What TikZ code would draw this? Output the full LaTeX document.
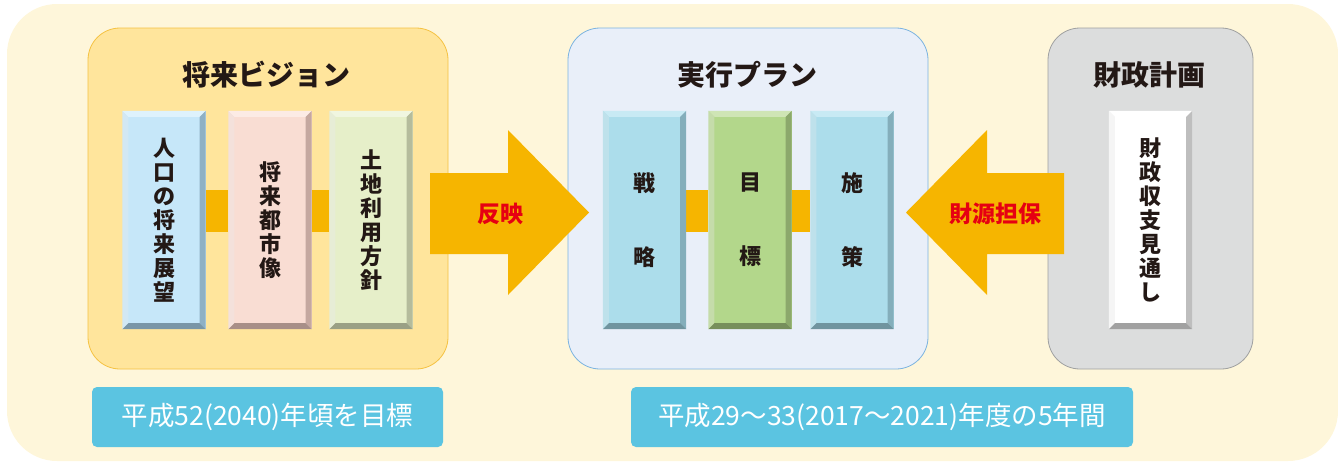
\documentclass[tikz,border=0pt]{standalone}
\usepackage{fontspec}
\setmainfont{Noto Sans CJK JP}
\usetikzlibrary{calc}

\definecolor{cream}{HTML}{FEF6DA}
\definecolor{ink}{HTML}{231815}
\definecolor{amber}{HTML}{F6B500}
\definecolor{alert}{HTML}{E60012}
\definecolor{skyband}{HTML}{5BC4E1}
% group boxes
\definecolor{visionfill}{HTML}{FFE59C}
\definecolor{visionline}{HTML}{F5C242}
\definecolor{planfill}{HTML}{E9EFF9}
\definecolor{planline}{HTML}{7BB3E0}
\definecolor{financefill}{HTML}{DCDDDD}
\definecolor{financeline}{HTML}{9FA0A0}
% bars: face, light edge, dark edge
\definecolor{bluebar}{HTML}{C6E7F9}
\definecolor{bluelight}{HTML}{DEF2FC}
\definecolor{bluedark}{HTML}{8FB0C4}
\definecolor{pinkbar}{HTML}{F9DDD3}
\definecolor{pinklight}{HTML}{FCEBE5}
\definecolor{pinkdark}{HTML}{C5A8A0}
\definecolor{limebar}{HTML}{E6EFC9}
\definecolor{limelight}{HTML}{F0F6E0}
\definecolor{limedark}{HTML}{B5BC9C}
\definecolor{aquabar}{HTML}{ACDDEB}
\definecolor{aqualight}{HTML}{C8EAF4}
\definecolor{aquadark}{HTML}{84AEBB}
\definecolor{greenbar}{HTML}{B3D78B}
\definecolor{greenlight}{HTML}{CFE5B5}
\definecolor{greendark}{HTML}{8CA86C}
\definecolor{whitedark}{HTML}{BEBEBE}

\newcommand{\bevel}[3]{%
  \fill[#2] (#1.north west) -- (#1.north east) -- ([shift={(-6pt,-6pt)}]#1.north east) -- ([shift={(6pt,-6pt)}]#1.north west) -- cycle;
  \fill[#2!85!#3] (#1.north west) -- ([shift={(6pt,-6pt)}]#1.north west) -- ([shift={(6pt,6pt)}]#1.south west) -- (#1.south west) -- cycle;
  \fill[#3] (#1.north east) -- (#1.south east) -- ([shift={(-6pt,6pt)}]#1.south east) -- ([shift={(-6pt,-6pt)}]#1.north east) -- cycle;
  \fill[#3!85!black] (#1.south west) -- (#1.south east) -- ([shift={(-6pt,6pt)}]#1.south east) -- ([shift={(6pt,6pt)}]#1.south west) -- cycle;
}

\begin{document}
\begin{tikzpicture}[x=1pt,y=-1pt,
  group/.style={rounded corners=32pt, minimum width=#1, minimum height=341pt, draw, line width=0.8pt},
  bar/.style={fill=#1, minimum width=83pt, minimum height=218pt, inner sep=0pt, align=center,
    text=ink, font=\bfseries\fontsize{22}{24}\selectfont},
  title/.style={text=ink, font=\bfseries\fontsize{28}{30}\selectfont},
  link/.style={amber, line width=42pt},
  bigarrow/.style={fill=amber},
  arrowtext/.style={text=alert, font=\bfseries\fontsize{23}{24}\selectfont},
  period/.style={fill=skyband, rounded corners=5pt, minimum height=60pt, text=white,
    font=\fontsize{26.5}{28}\selectfont}]

\useasboundingbox (0,0) rectangle (1338,461);
\fill[cream, rounded corners=50pt] (7,4) rectangle (1338,461);

% groups
\node[group=360pt, fill=visionfill, draw=visionline] (vision) at (268,198.5) {};
\node[group=360pt, fill=planfill, draw=planline] (plan) at (748,198.5) {};
\node[group=205pt, fill=financefill, draw=financeline] (finance) at (1150.5,198.5) {};

\node[title] at (266,75) {将来ビジョン};
\node[title] at (747,75) {実行プラン};
\node[title] at (1149,75) {財政計画};

% arrows
\coordinate (reflect) at (589,212.5);
\fill[bigarrow] (430,173) -- (508,173) -- (508,130) -- (reflect) -- (508,295) -- (508,254) -- (430,254) -- cycle;
\node[arrowtext] (reflectlabel) at (500,214) {反映};

\coordinate (secure) at (906,212.5);
\fill[bigarrow] (1064,173) -- (987,173) -- (987,130) -- (secure) -- (987,295) -- (987,254) -- (1064,254) -- cycle;
\node[arrowtext] (securelabel) at (995,214) {財源担保};

% vision bars
\node[bar=bluebar] (population) at (164,220) {};
\node[bar=pinkbar] (cityimage) at (270,220) {};
\node[bar=limebar] (landuse) at (371,220) {};
\draw[link] ([yshift=9pt]population.east) -- ([yshift=9pt]cityimage.west);
\draw[link] ([yshift=9pt]cityimage.east) -- ([yshift=9pt]landuse.west);

% plan bars
\node[bar=aquabar] (strategy) at (644.5,220) {};
\node[bar=greenbar] (target) at (750,220) {};
\node[bar=aquabar] (measure) at (852,220) {};
\draw[link] ([yshift=9pt]strategy.east) -- ([yshift=9pt]target.west);
\draw[link] ([yshift=9pt]target.east) -- ([yshift=9pt]measure.west);

% finance bar
\node[bar=white] (outlook) at (1150.5,220) {};

\bevel{population}{bluelight}{bluedark}
\bevel{cityimage}{pinklight}{pinkdark}
\bevel{landuse}{limelight}{limedark}
\bevel{strategy}{aqualight}{aquadark}
\bevel{target}{greenlight}{greendark}
\bevel{measure}{aqualight}{aquadark}
\bevel{outlook}{white}{whitedark}

\node[bar=none, fill=none] at (population) {人\\口\\の\\将\\来\\展\\望};
\node[bar=none, fill=none] at (cityimage) {将\\来\\都\\市\\像};
\node[bar=none, fill=none] at (landuse) {土\\地\\利\\用\\方\\針};
\node[bar=none, fill=none, font=\bfseries\fontsize{22}{74}\selectfont] at (strategy) {戦\\略};
\node[bar=none, fill=none, font=\bfseries\fontsize{22}{74}\selectfont] at (target) {目\\標};
\node[bar=none, fill=none, font=\bfseries\fontsize{22}{74}\selectfont] at (measure) {施\\策};
\node[bar=none, fill=none] at (outlook) {財\\政\\収\\支\\見\\通\\し};

% periods
\node[period, minimum width=351pt] (visionperiod) at (267.5,417) {平成52(2040)年頃を目標};
\node[period, minimum width=502pt] (planperiod) at (882,417) {平成29～33(2017～2021)年度の5年間};

\end{tikzpicture}
\end{document}
